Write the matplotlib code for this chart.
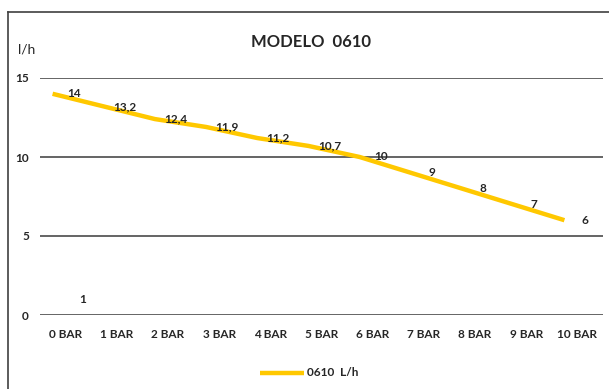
import matplotlib.pyplot as plt
import matplotlib.transforms as mtransforms
from matplotlib.lines import Line2D

categories = ['0 BAR', '1 BAR', '2 BAR', '3 BAR', '4 BAR', '5 BAR',
              '6 BAR', '7 BAR', '8 BAR', '9 BAR', '10 BAR']
flow = [14, 13.2, 12.4, 11.9, 11.2, 10.7, 10, 9, 8, 7, 6]
value_labels = ['14', '13,2', '12,4', '11,9', '11,2', '10,7', '10', '9', '8', '7', '6']
stray_value = 1  # leftover label near the first category
series_name = '0610  L/h'
yticks = [0, 5, 10, 15]

plt.rcParams['font.family'] = ['Lato', 'DejaVu Sans']

fig = plt.figure(figsize=(6.09, 3.89), dpi=100)
ax = fig.add_axes([40 / 609, 1 - 315 / 389, 563 / 609, (315 - 78) / 389])

x = list(range(len(categories)))
yellow = '#FFC800'
ink = '#262626'

# the line sits a bit left of the category centres, labels a bit right
line_shift = mtransforms.ScaledTranslation(-13 / 100, 0, fig.dpi_scale_trans)
label_shift = mtransforms.ScaledTranslation(8 / 100, 0, fig.dpi_scale_trans)

ax.plot(x, flow, color=yellow, lw=3.2, solid_capstyle='butt',
        transform=ax.transData + line_shift, zorder=3)
for xi, v, txt in zip(x, flow, value_labels):
    ax.text(xi, v, txt, transform=ax.transData + label_shift,
            ha='center', va='center', fontsize=8.5, fontweight='bold',
            color=ink, zorder=4)
ax.text(0.34, stray_value, str(stray_value), ha='center', va='center',
        fontsize=8.5, fontweight='bold', color=ink)

ax.set_xlim(-0.5, len(categories) - 0.5)
ax.set_ylim(0, 15)
ax.set_yticks(yticks)
ax.set_xticks(x)
ax.set_xticklabels(categories, fontsize=8.5, fontweight='bold', color=ink)
ax.tick_params(axis='y', labelsize=8.5, labelcolor=ink, length=0, pad=8)
ax.tick_params(axis='x', length=0, pad=10)
for lbl in ax.get_yticklabels():
    lbl.set_fontweight('bold')
ax.grid(axis='y', color='#3a3a3a', lw=1.1)
ax.set_axisbelow(True)
for s in ax.spines.values():
    s.set_visible(False)

fig.text(311 / 609, 1 - 42 / 389, 'MODELO  0610', ha='center', va='center',
         fontsize=12, fontweight='bold', color=ink)
fig.text(18 / 609, 1 - 50 / 389, 'l/h', ha='left', va='center',
         fontsize=10, color=ink)

# legend drawn by hand under the axis
fig.add_artist(Line2D([260 / 609, 304 / 609], [1 - 373 / 389] * 2,
                      color=yellow, lw=3.2, solid_capstyle='butt'))
fig.text(307 / 609, 1 - 373 / 389, series_name, ha='left', va='center',
         fontsize=8.5, fontweight='bold', color=ink)

# outer chart frame (left and top edges)
fig.add_artist(Line2D([8 / 609, 8 / 609], [0, 1 - 12 / 389], color='#404040', lw=1.2))
fig.add_artist(Line2D([8 / 609, 1], [1 - 12 / 389] * 2, color='#404040', lw=1.2))

fig.savefig('out.png', dpi=100, facecolor='white')
